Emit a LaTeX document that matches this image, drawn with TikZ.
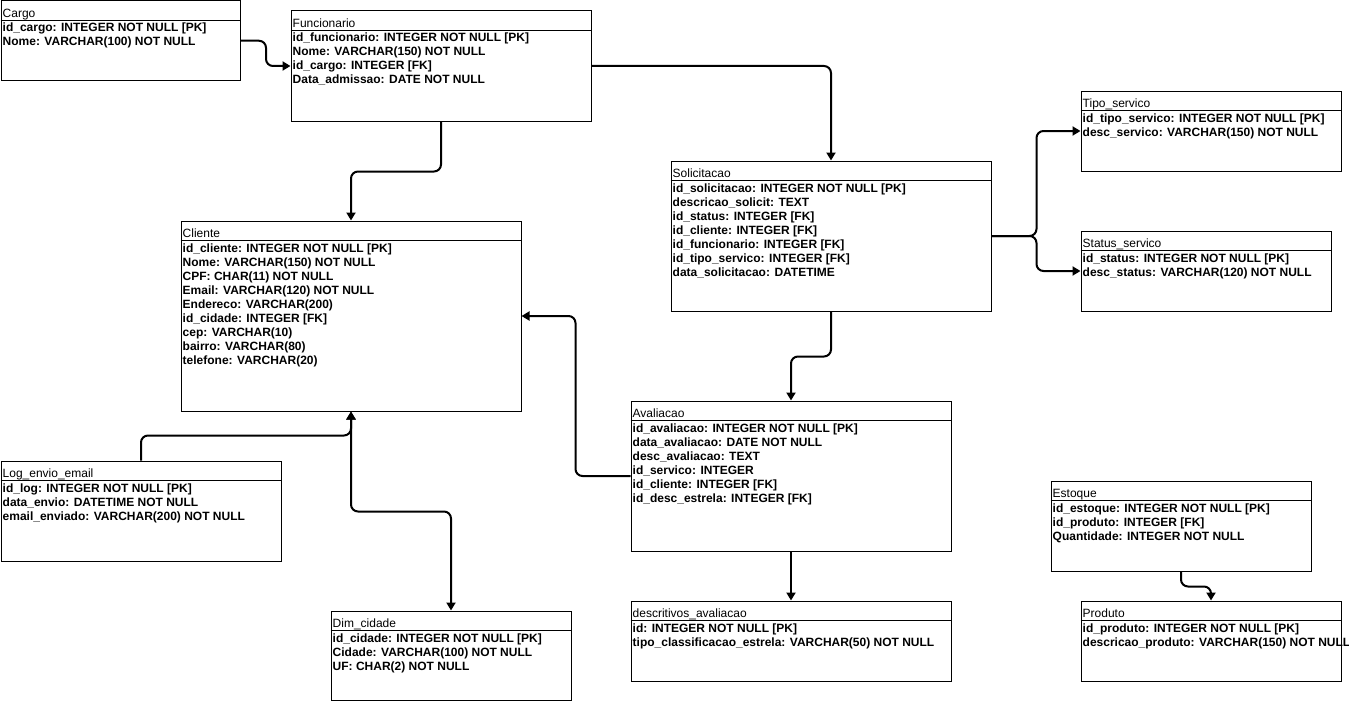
\documentclass[tikz,border=0pt]{standalone}
\usepackage{fontspec}
\setmainfont{Liberation Sans}
\usetikzlibrary{arrows.meta}

\tikzset{
  tbl/.style={draw=black, line width=1pt, rectangle, inner sep=0pt, anchor=north west, fill=white},
  tblline/.style={draw=black, line width=1pt},
  hdr/.style={anchor=base west, inner sep=0pt, font=\fontsize{12}{14}\selectfont},
  fieldrow/.style={anchor=base west, inner sep=0pt, font=\bfseries\fontsize{12}{14}\selectfont},
  conn/.style={draw=black, line width=2pt, rounded corners=7pt, -{Triangle[length=8pt,width=9pt]}},
  conn2/.style={draw=black, line width=2pt, rounded corners=7pt, {Triangle[length=8pt,width=9pt]}-{Triangle[length=8pt,width=9pt]}}
}

% entity box with title band: #1 name, #2 x, #3 y, #4 width, #5 height, #6 title
\newcommand\ertable[6]{%
  \node[tbl, minimum width=#4pt, minimum height=#5pt] (#1) at (#2,#3) {};
  \draw[tblline] ([yshift=-20pt]#1.north west) -- ([yshift=-20pt]#1.north east);
  \node[hdr] (#1-title) at ([xshift=2pt,yshift=-17pt]#1.north west) {#6};
}
% field lines of an entity box: #1 name, #2 comma separated fields
\newcommand\ertablerows[2]{%
  \foreach \fld [count=\i] in {#2}
    \node[fieldrow] (#1-\i) at ([xshift=2pt,yshift={-17.5pt-14pt*\i}]#1.north west) {\fld};
}

\begin{document}
\begin{tikzpicture}[x=1pt,y=-1pt]
\useasboundingbox (0,0) rectangle (1349,701);
\fill[white] (0,0) rectangle (1349,701);

\ertable{cargo}{0.5}{0.5}{239.5}{79.5}{Cargo}
\ertablerows{cargo}{id\_cargo: INTEGER NOT NULL [PK],Nome: VARCHAR(100) NOT NULL}

\ertable{func}{290.5}{10.5}{300}{110}{Funcionario}
\ertablerows{func}{id\_funcionario: INTEGER NOT NULL [PK],Nome: VARCHAR(150) NOT NULL,id\_cargo: INTEGER [FK],Data\_admissao: DATE NOT NULL}

\ertable{sol}{670.5}{160.5}{320}{150}{Solicitacao}
\ertablerows{sol}{id\_solicitacao: INTEGER NOT NULL [PK],descricao\_solicit: TEXT,id\_status: INTEGER [FK],id\_cliente: INTEGER [FK],id\_funcionario: INTEGER [FK],id\_tipo\_servico: INTEGER [FK],data\_solicitacao: DATETIME}

\ertable{tipo}{1080.5}{90.5}{260}{80}{Tipo\_servico}
\ertablerows{tipo}{id\_tipo\_servico: INTEGER NOT NULL [PK],desc\_servico: VARCHAR(150) NOT NULL}

\ertable{status}{1080.5}{230.5}{250}{80}{Status\_servico}
\ertablerows{status}{id\_status: INTEGER NOT NULL [PK],desc\_status: VARCHAR(120) NOT NULL}

\ertable{cli}{180.5}{220.5}{340}{190}{Cliente}
\ertablerows{cli}{id\_cliente: INTEGER NOT NULL [PK],Nome: VARCHAR(150) NOT NULL,CPF: CHAR(11) NOT NULL,Email: VARCHAR(120) NOT NULL,Endereco: VARCHAR(200),id\_cidade: INTEGER [FK],cep: VARCHAR(10),bairro: VARCHAR(80),telefone: VARCHAR(20)}

\ertable{log}{0.5}{460.5}{280}{100}{Log\_envio\_email}
\ertablerows{log}{id\_log: INTEGER NOT NULL [PK],data\_envio: DATETIME NOT NULL,email\_enviado: VARCHAR(200) NOT NULL}

\ertable{aval}{630.5}{400.5}{320}{150}{Avaliacao}
\ertablerows{aval}{id\_avaliacao: INTEGER NOT NULL [PK],data\_avaliacao: DATE NOT NULL,desc\_avaliacao: TEXT,id\_servico: INTEGER,id\_cliente: INTEGER [FK],id\_desc\_estrela: INTEGER [FK]}

\ertable{dim}{330.5}{610.5}{240}{89}{Dim\_cidade}
\ertablerows{dim}{id\_cidade: INTEGER NOT NULL [PK],Cidade: VARCHAR(100) NOT NULL,UF: CHAR(2) NOT NULL}

\ertable{desc}{630.5}{600.5}{320}{80}{descritivos\_avaliacao}
\ertablerows{desc}{id: INTEGER NOT NULL [PK],tipo\_classificacao\_estrela: VARCHAR(50) NOT NULL}

\ertable{est}{1050.5}{480.5}{260}{90}{Estoque}
\ertablerows{est}{id\_estoque: INTEGER NOT NULL [PK],id\_produto: INTEGER [FK],Quantidade: INTEGER NOT NULL}

\ertable{prod}{1080.5}{600.5}{260}{80}{Produto}
\ertablerows{prod}{id\_produto: INTEGER NOT NULL [PK],descricao\_produto: VARCHAR(150) NOT NULL}

% relationships
\draw[conn] (cargo.east) -- ++(25,0) |- (func.west);
\draw[conn] (func.east) -| (sol.north);
\draw[conn] (func.south) -- ++(0,50) -| (cli.north);
\draw[conn] (sol.east) -- ++(45,0) |- (tipo.west);
\draw[conn] (sol.east) -- ++(45,0) |- (status.west);
\draw[conn] (sol.south) -- ++(0,45) -| (aval.north);
\draw[conn] (aval.west) -- ++(-55,0) |- (cli.east);
\draw[conn] (aval.south) -- (desc.north);
\draw[conn] (log.north) -- ++(0,-25) -| (cli.south);
\draw[conn2] (cli.south) -- ++(0,100) -| (dim.north);
\draw[conn] (est.south) -- ++(0,15) -| (prod.north);
\end{tikzpicture}
\end{document}
